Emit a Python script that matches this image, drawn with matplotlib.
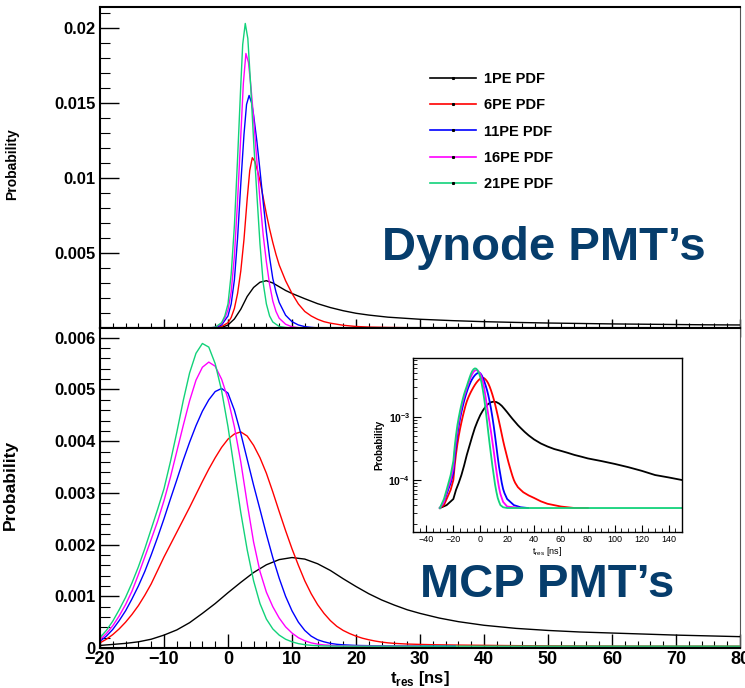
import matplotlib
matplotlib.use('Agg')
import matplotlib.pyplot as plt
import numpy as np
from matplotlib.lines import Line2D
from matplotlib.ticker import MultipleLocator, NullFormatter, LogLocator

plt.rcParams['font.family'] = ['Liberation Sans', 'DejaVu Sans']
plt.rcParams['font.weight'] = 'bold'
plt.rcParams['mathtext.fontset'] = 'custom'
plt.rcParams['mathtext.rm'] = 'Liberation Sans'
plt.rcParams['mathtext.bf'] = 'Liberation Sans:bold'

labels = ['1PE PDF', '6PE PDF', '11PE PDF', '16PE PDF', '21PE PDF']
colors = ['black', '#ff0000', '#0000ff', '#ff00ff', '#12d27a']

# dynode PMT pdfs (probability in units of 1e-3), t_res in ns
dy_t_1 = [-20, -2, -1, 0, 1, 2, 3, 4, 5, 6, 7, 8, 9, 10, 12, 14, 16, 18, 20, 22, 25,
          30, 35, 40, 45, 50, 55, 60, 65, 70, 75, 80]
dy_p_1 = [0, 0, 0.03, 0.2, 0.6, 1.25, 2.1, 2.7, 3.05, 3.15, 3.0, 2.75, 2.5, 2.3, 1.95, 1.62,
          1.36, 1.15, 0.98, 0.86, 0.72, 0.58, 0.49, 0.42, 0.37, 0.33, 0.3, 0.27, 0.25, 0.23,
          0.21, 0.2]
dy_t_6 = [-20, -2, -1, 0, 0.5, 1, 1.5, 2, 2.5, 3, 3.4, 3.8, 4.2, 4.6, 5, 5.5, 6, 6.5, 7,
          7.5, 8, 9, 10, 11, 12, 13, 14, 15, 16, 18, 20, 22, 25, 28, 31]
dy_p_6 = [0, 0.02, 0.1, 0.35, 0.7, 1.3, 2.3, 3.8, 5.9, 8.6, 10.5, 11.35, 11.1, 10.5, 9.8,
          8.7, 7.6, 6.6, 5.7, 4.9, 4.2, 3.15, 2.3, 1.6, 1.1, 0.8, 0.58, 0.42, 0.32, 0.18,
          0.1, 0.06, 0.035, 0.02, 0.01]
dy_t_11 = [-20, -3, -2, -1, 0, 0.5, 1, 1.5, 2, 2.5, 2.9, 3.3, 3.7, 4, 4.5, 5, 5.5, 6, 6.5,
           7, 7.5, 8, 9, 10, 11, 12, 13, 14, 16.7]
dy_p_11 = [0, 0, 0.03, 0.2, 0.8, 1.6, 3.2, 6.0, 9.6, 12.9, 14.9, 15.5, 15.0, 14.2, 12.5,
           10.5, 8.4, 6.4, 4.7, 3.3, 2.4, 1.7, 0.85, 0.42, 0.2, 0.09, 0.04, 0.01, 0]
dy_t_16 = [-20, -3, -2, -1, -0.5, 0, 0.5, 1, 1.5, 2, 2.4, 2.8, 3.2, 3.6, 4, 4.5, 5, 5.5, 6,
           6.5, 7, 7.5, 8, 9, 10, 11, 12, 20]
dy_p_16 = [0, 0, 0.04, 0.3, 0.65, 1.2, 2.4, 4.8, 8.5, 12.8, 16.3, 18.3, 17.7, 16.0, 14.0,
           11.2, 8.5, 6.2, 4.4, 2.9, 1.8, 1.1, 0.65, 0.25, 0.08, 0.02, 0, 0]
dy_t_21 = [-20, -3, -2, -1, -0.5, 0, 0.5, 1, 1.5, 2, 2.3, 2.7, 3.1, 3.5, 4, 4.5, 5, 5.5, 6,
           6.5, 7, 8, 9, 10, 80]
dy_p_21 = [0, 0, 0.05, 0.35, 0.8, 1.6, 3.6, 6.8, 11.3, 16.2, 18.9, 20.3, 19.3, 16.5, 12.5,
           9.0, 5.6, 3.0, 1.6, 0.8, 0.4, 0.1, 0.03, 0, 0]

# MCP PMT pdfs (probability in units of 1e-3)
mcp_t_1 = [-30, -25, -20, -18, -16, -14, -12, -10, -8, -6, -4, -2, 0, 2, 4, 6, 8, 10, 12,
           14, 16, 18, 20, 22, 24, 26, 28, 30, 33, 36, 40, 45, 50, 55, 60, 65, 70, 75, 80,
           90, 100, 110, 120, 130, 140, 150]
mcp_p_1 = [0.036, 0.04, 0.05, 0.07, 0.09, 0.12, 0.17, 0.25, 0.35, 0.49, 0.67, 0.86, 1.07,
           1.27, 1.46, 1.61, 1.71, 1.75, 1.72, 1.63, 1.5, 1.34, 1.19, 1.05, 0.93, 0.83,
           0.74, 0.67, 0.58, 0.51, 0.44, 0.38, 0.34, 0.31, 0.29, 0.27, 0.25, 0.235, 0.22,
           0.2, 0.18, 0.16, 0.14, 0.12, 0.11, 0.1]
mcp_t_6 = [-30, -27, -25, -22, -20, -19, -18, -17, -16, -15, -14, -13, -12, -11, -10, -9,
           -8, -7, -6, -5, -4, -3, -2, -1, 0, 1, 2, 3, 4, 5, 6, 7, 8, 9, 10, 11, 12, 13, 14,
           15, 16, 17, 18, 19, 20, 21, 22, 23, 24, 25, 26, 28, 30, 32, 36, 40, 45, 50, 60,
           70, 80]
mcp_p_6 = [0.036, 0.04, 0.05, 0.07, 0.1, 0.17, 0.26, 0.37, 0.5, 0.65, 0.82, 1.02, 1.24,
           1.5, 1.76, 2.0, 2.24, 2.48, 2.72, 2.97, 3.22, 3.46, 3.68, 3.88, 4.04, 4.14, 4.18,
           4.1, 3.92, 3.68, 3.38, 3.02, 2.64, 2.27, 1.92, 1.6, 1.3, 1.05, 0.84, 0.67, 0.53,
           0.42, 0.34, 0.28, 0.23, 0.19, 0.16, 0.135, 0.115, 0.1, 0.09, 0.077, 0.07, 0.064,
           0.057, 0.052, 0.046, 0.042, 0.038, 0.036, 0.036]
mcp_t_11 = [-30, -27, -25, -22, -20, -19, -18, -17, -16, -15, -14, -13, -12, -11, -10, -9,
            -8, -7, -6, -5, -4, -3, -2, -1, 0, 1, 2, 3, 4, 5, 6, 7, 8, 9, 10, 11, 12, 13,
            14, 15, 16, 17, 18, 20, 25, 30, 35.5]
mcp_p_11 = [0.036, 0.045, 0.06, 0.09, 0.13, 0.23, 0.36, 0.53, 0.72, 0.95, 1.2, 1.48, 1.8,
            2.14, 2.5, 2.88, 3.25, 3.63, 3.98, 4.3, 4.58, 4.8, 4.96, 5.02, 4.93, 4.6, 4.15,
            3.65, 3.15, 2.68, 2.2, 1.75, 1.35, 1.0, 0.72, 0.5, 0.34, 0.23, 0.16, 0.12, 0.09,
            0.072, 0.062, 0.05, 0.04, 0.037, 0.036]
mcp_t_16 = [-30, -27, -25, -22, -20, -19, -18, -17, -16, -15, -14, -13, -12, -11, -10, -9,
            -8, -7, -6, -5, -4, -3, -2, -1, 0, 1, 2, 3, 4, 5, 6, 7, 8, 9, 10, 11, 12, 13,
            14, 15, 17, 20, 25, 30]
mcp_p_16 = [0.036, 0.045, 0.065, 0.1, 0.16, 0.28, 0.43, 0.62, 0.84, 1.1, 1.42, 1.76, 2.1,
            2.45, 2.85, 3.3, 3.8, 4.3, 4.78, 5.18, 5.43, 5.53, 5.45, 5.2, 4.82, 4.28, 3.6,
            2.8, 2.05, 1.48, 1.08, 0.8, 0.58, 0.41, 0.29, 0.2, 0.14, 0.1, 0.075, 0.06,
            0.045, 0.038, 0.037, 0.036]
mcp_t_21 = [-30, -27, -25, -22, -20, -19, -18, -17, -16, -15, -14, -13, -12, -11, -10, -9,
            -8, -7, -6, -5, -4, -3, -2, -1, 0, 1, 2, 3, 4, 5, 6, 7, 8, 9, 10, 11, 12, 13,
            14, 15, 17, 20, 150]
mcp_p_21 = [0.036, 0.05, 0.07, 0.12, 0.2, 0.34, 0.52, 0.74, 0.98, 1.26, 1.57, 1.92, 2.3,
            2.68, 3.08, 3.6, 4.17, 4.78, 5.32, 5.7, 5.89, 5.82, 5.5, 4.98, 4.28, 3.45, 2.62,
            1.9, 1.3, 0.86, 0.56, 0.37, 0.25, 0.17, 0.12, 0.085, 0.065, 0.052, 0.045, 0.04,
            0.037, 0.036, 0.036]

dy_t = [dy_t_1, dy_t_6, dy_t_11, dy_t_16, dy_t_21]
dy_p = [dy_p_1, dy_p_6, dy_p_11, dy_p_16, dy_p_21]
mcp_t = [mcp_t_1, mcp_t_6, mcp_t_11, mcp_t_16, mcp_t_21]
mcp_p = [mcp_p_1, mcp_p_6, mcp_p_11, mcp_p_16, mcp_p_21]

title_col = '#063d6c'

fig = plt.figure(figsize=(7.45, 6.88), dpi=100)
ax1 = fig.add_axes([0.1342, 0.5233, 0.8591, 0.4666])
ax2 = fig.add_axes([0.1342, 0.0581, 0.8591, 0.4652])

for t, p, c in zip(dy_t, dy_p, colors):
    ax1.plot(t, np.array(p) * 1e-3, color=c, lw=1.0)
for t, p, c in zip(mcp_t, mcp_p, colors):
    ax2.plot(t, np.array(p) * 1e-3, color=c, lw=1.0)

for ax in (ax1, ax2):
    ax.set_xlim(-20, 80)
    ax.xaxis.set_major_locator(MultipleLocator(10))
    ax.xaxis.set_minor_locator(MultipleLocator(2))
    ax.tick_params(axis='both', which='both', direction='in', top=False, right=False)
    ax.tick_params(axis='y', which='major', length=14, width=1.0, labelsize=12, pad=3)
    ax.tick_params(axis='y', which='minor', length=7, width=0.8)
    for s in ('left', 'bottom', 'top'):
        ax.spines[s].set_linewidth(1.5)
    ax.spines['right'].set_linewidth(0.8)
    ax.spines['right'].set_color('#555555')

# top panel: dynode
ax1.set_ylim(0, 0.0214)
ax1.set_yticks([0.005, 0.01, 0.015, 0.02], labels=['0.005', '0.01', '0.015', '0.02'])
ax1.yaxis.set_minor_locator(MultipleLocator(0.001))
ax1.tick_params(axis='x', which='major', direction='inout', length=13, width=1.0,
                labelbottom=False)
ax1.tick_params(axis='x', which='minor', direction='inout', length=7, width=0.8)
ax1.set_ylabel('Probability', fontsize=10, fontweight='bold')
ax1.yaxis.set_label_coords(-0.127, 0.51)

handles = [Line2D([], [], color=c, lw=1.2, marker='s', ms=1.2, mfc='k', mec='k')
           for c in colors]
ax1.legend(handles, labels, loc='upper left', bbox_to_anchor=(430 / 745, 1 - 72 / 688),
           bbox_transform=fig.transFigure, frameon=False,
           prop={'weight': 'bold', 'size': 10.5}, handlelength=3.15,
           handletextpad=0.55, labelspacing=0.84, borderpad=0, borderaxespad=0,
           numpoints=1)

fig.text(382 / 745, 1 - 260 / 688, 'Dynode PMT\u2019s', color=title_col, fontsize=34,
         fontweight='bold', ha='left', va='baseline')

# bottom panel: MCP
ax2.set_ylim(0, 0.00619)
ax2.set_yticks([0, 0.001, 0.002, 0.003, 0.004, 0.005, 0.006],
               labels=['0', '0.001', '0.002', '0.003', '0.004', '0.005', '0.006'])
ax2.yaxis.set_minor_locator(MultipleLocator(0.0002))
ax2.tick_params(axis='x', which='major', length=10, width=1.0, labelsize=13, pad=2)
ax2.tick_params(axis='x', which='minor', length=5, width=0.8)
ax2.set_ylabel('Probability', fontsize=12.5, fontweight='bold')
ax2.yaxis.set_label_coords(-0.128, 0.51)
ax2.set_xlabel(r'$\mathbf{t}_{\mathbf{res}}$ [ns]', fontsize=12, fontweight='bold',
               labelpad=1)

fig.text(420 / 745, 1 - 597 / 688, 'MCP PMT\u2019s', color=title_col, fontsize=34,
         fontweight='bold', ha='left', va='baseline')

# log-scale inset with the full MCP range
axi = fig.add_axes([413 / 745, 1 - 532 / 688, 269 / 745, 174 / 688])
for t, p, c in zip(mcp_t, mcp_p, colors):
    axi.plot(t, np.array(p) * 1e-3, color=c, lw=1.3)
axi.set_yscale('log')
axi.set_xlim(-50, 150)
axi.set_ylim(1.5e-5, 8.6e-3)
axi.xaxis.set_major_locator(MultipleLocator(20))
axi.xaxis.set_minor_locator(MultipleLocator(5))
axi.yaxis.set_major_locator(LogLocator(base=10))
axi.yaxis.set_minor_locator(LogLocator(base=10, subs=np.arange(2, 10)))
axi.yaxis.set_minor_formatter(NullFormatter())
axi.tick_params(axis='both', which='both', direction='in', top=False, right=False)
axi.tick_params(axis='x', which='major', length=5, width=0.8, labelsize=6.5, pad=2)
axi.tick_params(axis='y', which='major', length=6, width=0.8, labelsize=7.5, pad=2)
axi.tick_params(axis='both', which='minor', length=3, width=0.6)
for lbl in axi.get_xticklabels():
    lbl.set_fontweight('normal')
for s in axi.spines.values():
    s.set_linewidth(1.0)
axi.set_ylabel('Probability', fontsize=7, fontweight='bold', labelpad=1)
axi.yaxis.set_label_coords(-0.105, 0.5)
axi.set_xlabel(r'$\mathregular{t_{res}}$ [ns]', fontsize=6.5, fontweight='normal',
               labelpad=1)

fig.savefig('out.png', dpi=100)
